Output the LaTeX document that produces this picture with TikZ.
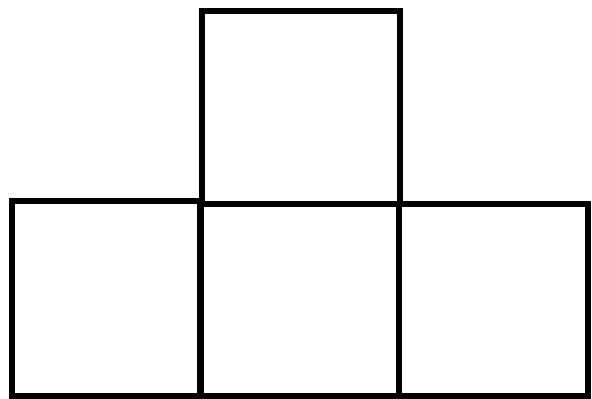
\documentclass[tikz,border=0pt]{standalone}
\begin{document}
\begin{tikzpicture}[x=0.03cm,y=-0.03cm,sq/.style={draw=black,line width=0.2cm,line join=miter}]
\useasboundingbox (0,0) rectangle (592,399);
\draw[sq] (202,11) rectangle (400,204);
\draw[sq] (12,201) rectangle (200,396);
\draw[sq] (201,204) rectangle (399,396);
\draw[sq] (399,204) rectangle (588,396);
\end{tikzpicture}
\end{document}
